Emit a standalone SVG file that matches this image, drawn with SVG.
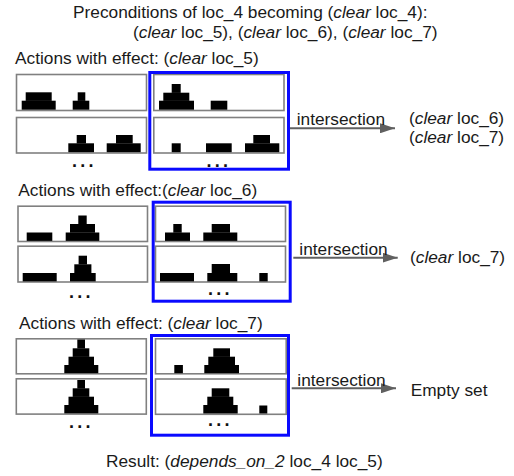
<svg xmlns="http://www.w3.org/2000/svg" width="514" height="476" viewBox="0 0 514 476">
<defs>
<style>
text{font-family:"Liberation Sans",Arial,sans-serif;font-size:17.3px;fill:#1a1a1a}
.i{font-style:italic}
.dots{font-weight:bold;font-size:18px;letter-spacing:3.2px;fill:#111}
.box{fill:#fff;stroke:#808080;stroke-width:1.6}
.sel{fill:none;stroke:#0a0aff;stroke-width:3}
.blk{fill:#000}
.conn{stroke:#606060;stroke-width:2;fill:none}
</style>
<marker id="ah" viewBox="0 0 15 10" refX="15" refY="5" markerWidth="15" markerHeight="10" markerUnits="userSpaceOnUse" orient="auto">
<path d="M0,0 L15,5 L0,10 z" fill="#606060"/>
</marker>
</defs>
<rect width="514" height="476" fill="#fff"/>

<g id="title">
<text x="73" y="18">Preconditions of loc_4 becoming (<tspan class="i">clear</tspan> loc_4):</text>
<text x="133" y="37.5">(<tspan class="i">clear</tspan> loc_5), (<tspan class="i">clear</tspan> loc_6), (<tspan class="i">clear</tspan> loc_7)</text>
</g>

<!-- Section 1 -->
<g id="sec1">
<text x="15" y="64">Actions with effect: (<tspan class="i">clear</tspan> loc_5)</text>
<g id="s1-tl">
<rect class="box" x="16.5" y="74.5" width="130" height="36"/>
<rect class="blk" x="21.7" y="100.7" width="34" height="9"/>
<rect class="blk" x="25.7" y="92.3" width="26" height="8.6"/>
<rect class="blk" x="72.7" y="100.7" width="16.6" height="9"/>
<rect class="blk" x="77.7" y="92.3" width="7.6" height="8.6"/>
</g>
<g id="s1-bl">
<rect class="box" x="16.5" y="117.5" width="130" height="35.5"/>
<rect class="blk" x="68.3" y="143.3" width="25.7" height="8.9"/>
<rect class="blk" x="76.7" y="135" width="9.3" height="8.5"/>
<rect class="blk" x="106.7" y="143.3" width="34" height="8.9"/>
<rect class="blk" x="116" y="135" width="16.7" height="8.5"/>
</g>
<text class="dots" x="72" y="167.3">...</text>
<g id="s1-tr">
<rect class="box" x="153.8" y="74.5" width="130.2" height="36"/>
<rect class="blk" x="159" y="100.7" width="35" height="9"/>
<rect class="blk" x="163.3" y="92.7" width="26" height="8.2"/>
<rect class="blk" x="171.7" y="84" width="9" height="8.9"/>
<rect class="blk" x="210.7" y="100.7" width="16.6" height="9"/>
</g>
<g id="s1-br">
<rect class="box" x="153.8" y="117.5" width="130.2" height="35.5"/>
<rect class="blk" x="171.7" y="143.3" width="9" height="8.9"/>
<rect class="blk" x="206" y="143.3" width="25.7" height="8.9"/>
<rect class="blk" x="245" y="143.3" width="34.3" height="8.9"/>
<rect class="blk" x="253.3" y="135" width="16.7" height="8.5"/>
</g>
<text class="dots" x="206.5" y="167.3">...</text>
<rect id="s1-sel" class="sel" x="149.8" y="72.5" width="138.7" height="96.7"/>
</g>

<!-- Section 2 -->
<g id="sec2">
<text x="18.3" y="196">Actions with effect:(<tspan class="i">clear</tspan> loc_6)</text>
<g id="s2-tl">
<rect class="box" x="18" y="206.2" width="129.5" height="35.3"/>
<rect class="blk" x="26.7" y="232.5" width="25.6" height="8.4"/>
<rect class="blk" x="65.7" y="232.5" width="33.6" height="8.4"/>
<rect class="blk" x="70" y="224" width="25" height="8.7"/>
<rect class="blk" x="78.3" y="215.5" width="8.4" height="8.7"/>
</g>
<g id="s2-bl">
<rect class="box" x="18" y="246.2" width="129.5" height="35.8"/>
<rect class="blk" x="22.7" y="273" width="34" height="8.4"/>
<rect class="blk" x="70" y="273" width="25.7" height="8.4"/>
<rect class="blk" x="74.3" y="264.3" width="17.1" height="8.9"/>
<rect class="blk" x="78.6" y="255.7" width="8.4" height="8.8"/>
</g>
<text class="dots" x="69" y="298.3">...</text>
<g id="s2-tr">
<rect class="box" x="155.5" y="206.2" width="130" height="35.3"/>
<rect class="blk" x="165" y="232.5" width="25" height="8.4"/>
<rect class="blk" x="173.3" y="224" width="8.4" height="8.7"/>
<rect class="blk" x="203.3" y="232.5" width="34" height="8.4"/>
<rect class="blk" x="211.7" y="224" width="18.3" height="8.7"/>
</g>
<g id="s2-br">
<rect class="box" x="155.5" y="246.2" width="130" height="35.8"/>
<rect class="blk" x="160" y="273" width="34" height="8.4"/>
<rect class="blk" x="207.3" y="273" width="30" height="8.4"/>
<rect class="blk" x="211.7" y="264" width="18.3" height="9.2"/>
<rect class="blk" x="259.3" y="273" width="8.4" height="8.4"/>
</g>
<text class="dots" x="208" y="295">...</text>
<rect id="s2-sel" class="sel" x="153.2" y="202.2" width="137" height="99"/>
</g>

<!-- Section 3 -->
<g id="sec3">
<text x="19" y="329">Actions with effect: (<tspan class="i">clear</tspan> loc_7)</text>
<g id="s3-tl">
<rect class="box" x="16.3" y="338.8" width="130" height="35"/>
<rect class="blk" x="64.3" y="365" width="34" height="8.2"/>
<rect class="blk" x="68.5" y="356.7" width="25.5" height="8.5"/>
<rect class="blk" x="72.7" y="348.3" width="16.6" height="8.6"/>
<rect class="blk" x="77.3" y="339.5" width="7.7" height="9"/>
</g>
<g id="s3-bl">
<rect class="box" x="16.3" y="378.8" width="130" height="35.3"/>
<rect class="blk" x="64.3" y="405" width="34" height="8.4"/>
<rect class="blk" x="68.5" y="396.7" width="25.5" height="8.5"/>
<rect class="blk" x="72.7" y="388.3" width="16.6" height="8.6"/>
<rect class="blk" x="77.3" y="380" width="7.7" height="8.6"/>
</g>
<text class="dots" x="69" y="428.3">...</text>
<g id="s3-tr">
<rect class="box" x="155.5" y="338.8" width="130.7" height="35"/>
<rect class="blk" x="174.3" y="365" width="8.6" height="8.2"/>
<rect class="blk" x="204.3" y="365" width="34.7" height="8.2"/>
<rect class="blk" x="208.3" y="356.7" width="26.7" height="8.5"/>
<rect class="blk" x="213.3" y="348.3" width="16.7" height="8.6"/>
</g>
<g id="s3-br">
<rect class="box" x="155.5" y="379" width="130.7" height="35.3"/>
<rect class="blk" x="203.3" y="405" width="34.4" height="8.5"/>
<rect class="blk" x="207.3" y="396.7" width="26" height="8.5"/>
<rect class="blk" x="211.7" y="388.3" width="17.6" height="8.6"/>
<rect class="blk" x="259.3" y="405.5" width="8" height="8"/>
</g>
<text class="dots" x="208" y="425.5">...</text>
<rect id="s3-sel" class="sel" x="151.5" y="335.5" width="137" height="99.7"/>
</g>

<g id="connectors">
<line class="conn" x1="290" y1="128.3" x2="395" y2="128.3" marker-end="url(#ah)"/>
<line class="conn" x1="293.3" y1="257.7" x2="397.7" y2="257.7" marker-end="url(#ah)"/>
<line class="conn" x1="291.7" y1="388.3" x2="396" y2="388.3" marker-end="url(#ah)"/>
</g>

<g id="labels">
<text x="296.7" y="125">intersection</text>
<text x="409" y="123.5">(<tspan class="i">clear</tspan> loc_6)</text>
<text x="409" y="142.5">(<tspan class="i">clear</tspan> loc_7)</text>
<text x="299.3" y="255">intersection</text>
<text x="410" y="263">(<tspan class="i">clear</tspan> loc_7)</text>
<text x="297.3" y="386">intersection</text>
<text x="410.7" y="395.5">Empty set</text>
</g>

<g id="result">
<text x="106" y="467">Result: (<tspan class="i">depends_on_2</tspan> loc_4 loc_5)</text>
</g>
</svg>
